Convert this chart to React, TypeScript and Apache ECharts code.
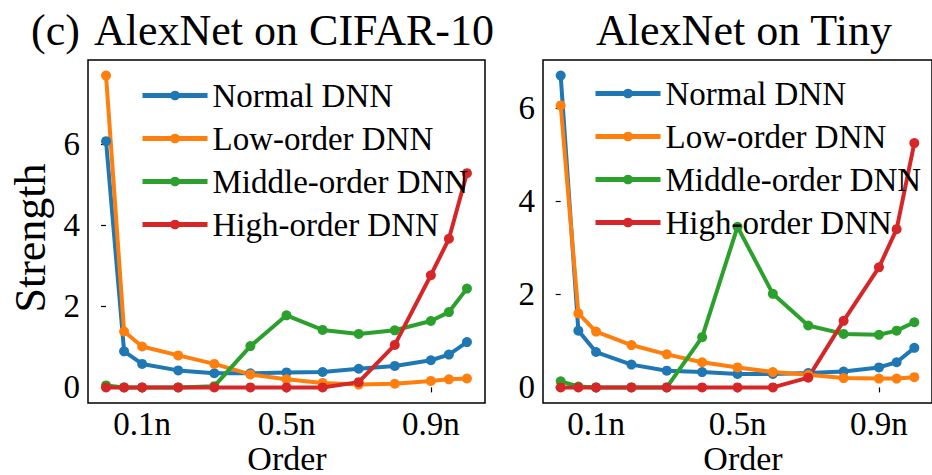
import React, { useEffect, useRef } from "react";
import * as echarts from "echarts";

const xValues = [0, 0.05, 0.1, 0.2, 0.3, 0.4, 0.5, 0.6, 0.7, 0.8, 0.9, 0.95, 1.0];
const xTickValues = [0.1, 0.5, 0.9];
const xTickLabels = ["0.1n", "0.5n", "0.9n"];
const yTickValues = [0, 2, 4, 6];

const seriesNames = ["Normal DNN", "Low-order DNN", "Middle-order DNN", "High-order DNN"];
const colors = ["#1f77b4", "#ff7f0e", "#2ca02c", "#d62728"];

const cifarNormal = [6.08, 0.89, 0.58, 0.42, 0.35, 0.35, 0.37, 0.38, 0.46, 0.53, 0.67, 0.81, 1.12];
const cifarLow = [7.7, 1.38, 1.01, 0.79, 0.58, 0.32, 0.2, 0.11, 0.07, 0.09, 0.16, 0.2, 0.22];
const cifarMiddle = [0.05, 0, 0, 0, 0.03, 1.02, 1.78, 1.42, 1.32, 1.41, 1.64, 1.86, 2.44];
const cifarHigh = [0, 0, 0, 0, 0, 0, 0, 0, 0.13, 1.05, 2.77, 3.67, 5.29];

const tinyNormal = [6.7, 1.22, 0.76, 0.49, 0.36, 0.33, 0.29, 0.29, 0.31, 0.34, 0.43, 0.54, 0.85];
const tinyLow = [6.06, 1.59, 1.2, 0.91, 0.71, 0.54, 0.43, 0.33, 0.27, 0.2, 0.19, 0.19, 0.22];
const tinyMiddle = [0.13, 0.02, 0, 0, 0, 1.08, 3.45, 2.01, 1.33, 1.15, 1.13, 1.22, 1.4];
const tinyHigh = [0, 0, 0, 0, 0, 0, 0, 0, 0.21, 1.43, 2.58, 3.4, 5.25];

const FONT = "Liberation Serif";

function pairs(ys: number[]) {
  return ys.map((y, i) => [xValues[i], y]);
}

export default function App() {
  const ref = useRef<HTMLDivElement>(null);
  useEffect(() => {
    document.body.style.margin = "0";
    const chart = echarts.init(ref.current!, null, { renderer: "svg" });
    const panels = [
      [cifarNormal, cifarLow, cifarMiddle, cifarHigh],
      [tinyNormal, tinyLow, tinyMiddle, tinyHigh],
    ];
    const yRanges = [
      [-0.385, 8.085],
      [-0.335, 7.035],
    ];
    const grids = [
      { left: 88, top: 60, width: 397, height: 343 },
      { left: 543, top: 60, width: 398, height: 343 },
    ];
    const series: any[] = [];
    panels.forEach((p, gi) => {
      p.forEach((ys, si) => {
        series.push({
          type: "line",
          name: seriesNames[si],
          xAxisIndex: gi,
          yAxisIndex: gi,
          data: pairs(ys),
          symbol: "circle",
          symbolSize: 10,
          showSymbol: true,
          lineStyle: { width: 4, color: colors[si] },
          itemStyle: { color: colors[si] },
          emphasis: { disabled: true },
        });
      });
    });
    const axisLabelStyle = { fontFamily: FONT, fontSize: 33, color: "#000", lineHeight: 33 };
    const textStyle = (size: number) => ({ fontFamily: FONT, fontSize: size, fill: "#000" });
    const option: any = {
      animation: false,
      grid: grids.map((g) => ({
        ...g,
        show: true,
        borderColor: "#000",
        borderWidth: 1.5,
        backgroundColor: "transparent",
      })),
      xAxis: grids.map((_, gi) => ({
        type: "value",
        gridIndex: gi,
        min: -0.05,
        max: 1.05,
        splitLine: { show: false },
        axisLine: { show: false },
        axisTick: {
          show: true,
          inside: false,
          length: 5,
          customValues: xTickValues,
          lineStyle: { color: "#000", width: 1.2 },
        },
        axisLabel: {
          ...axisLabelStyle,
          margin: 4,
          customValues: xTickValues,
          formatter: (v: number) => {
            const idx = xTickValues.findIndex((t) => Math.abs(t - v) < 1e-6);
            return idx >= 0 ? xTickLabels[idx] : "";
          },
        },
      })),
      yAxis: grids.map((_, gi) => ({
        type: "value",
        gridIndex: gi,
        min: yRanges[gi][0],
        max: yRanges[gi][1],
        splitLine: { show: false },
        axisLine: { show: false },
        axisTick: {
          show: true,
          inside: false,
          length: 5,
          customValues: yTickValues,
          lineStyle: { color: "#000", width: 1.2 },
        },
        axisLabel: {
          ...axisLabelStyle,
          margin: 8,
          customValues: yTickValues,
          formatter: (v: number) => String(Math.round(v)),
        },
      })),
      legend: [
        { left: 140, top: 79 },
        { left: 593, top: 77 },
      ].map((pos) => ({
        ...pos,
        padding: 0,
        orient: "vertical",
        data: seriesNames,
        itemWidth: 65,
        itemHeight: 12,
        itemGap: 10,
        selectedMode: false,
        lineStyle: { width: 5 },
        textStyle: { fontFamily: FONT, fontSize: 33, color: "#000", lineHeight: 32 },
      })),
      graphic: [
        {
          type: "text",
          x: 31,
          y: 30,
          style: { text: "(c)", ...textStyle(44), verticalAlign: "middle" },
        },
        {
          type: "text",
          x: 294,
          y: 30,
          style: { text: "AlexNet on CIFAR-10", ...textStyle(44), align: "center", verticalAlign: "middle" },
        },
        {
          type: "text",
          x: 744,
          y: 30,
          style: { text: "AlexNet on Tiny", ...textStyle(44), align: "center", verticalAlign: "middle" },
        },
        {
          type: "text",
          x: 30,
          y: 238,
          rotation: Math.PI / 2,
          style: { text: "Strength", ...textStyle(44), align: "center", verticalAlign: "middle" },
        },
        {
          type: "text",
          x: 287,
          y: 458,
          style: { text: "Order", ...textStyle(34), align: "center", verticalAlign: "middle" },
        },
        {
          type: "text",
          x: 743,
          y: 458,
          style: { text: "Order", ...textStyle(34), align: "center", verticalAlign: "middle" },
        },
      ],
      series,
    };
    chart.setOption(option);
    return () => chart.dispose();
  }, []);
  return <div ref={ref} style={{ width: 932, height: 475, background: "#fff" }} />;
}
